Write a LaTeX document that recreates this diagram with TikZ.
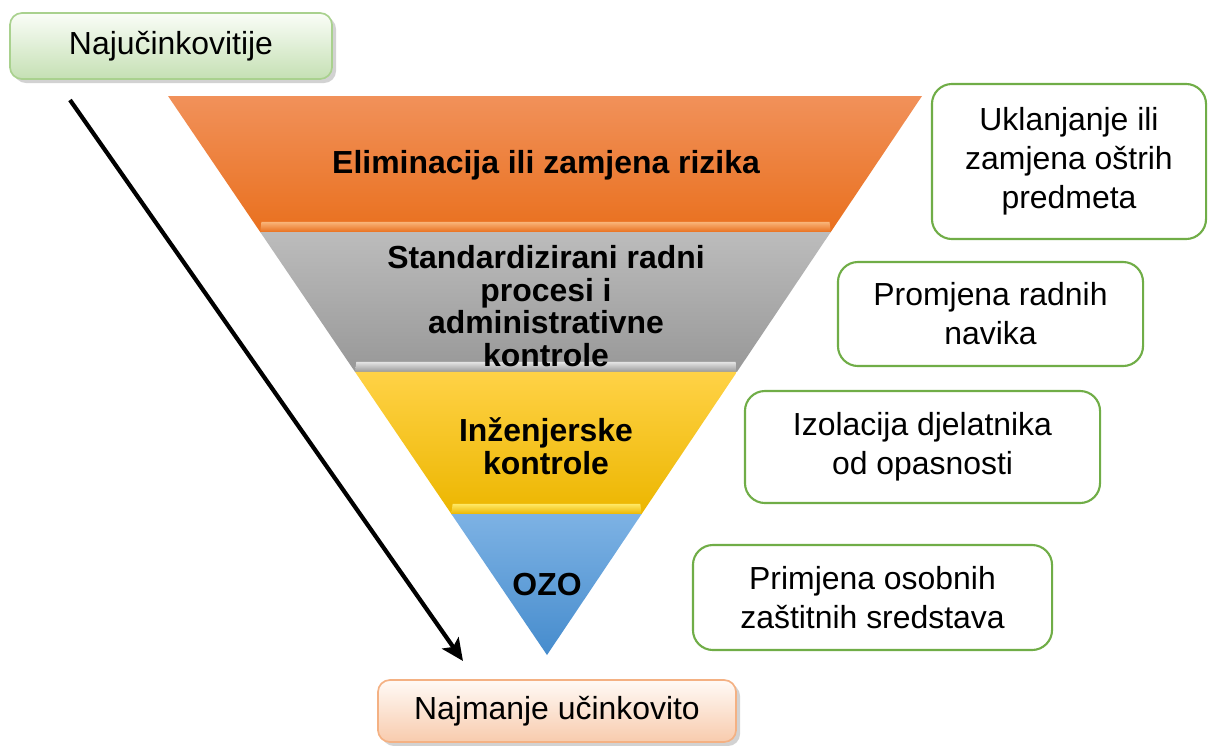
\documentclass[tikz,border=0pt]{standalone}
\usepackage{fontspec}
\setmainfont{Liberation Sans}
\usetikzlibrary{calc,shadows,arrows.meta}

\definecolor{okvir}{RGB}{112,173,71}
\definecolor{zelT}{RGB}{250,253,247}
\definecolor{zelB}{RGB}{197,224,180}
\definecolor{zelR}{RGB}{169,209,142}
\definecolor{bresT}{RGB}{255,250,246}
\definecolor{bresB}{RGB}{248,203,173}
\definecolor{bresR}{RGB}{244,177,131}
\definecolor{narT}{RGB}{241,145,90}
\definecolor{narB}{RGB}{233,112,30}
\definecolor{narS}{RGB}{249,180,120}
\definecolor{sivT}{RGB}{188,188,188}
\definecolor{sivB}{RGB}{152,152,152}
\definecolor{sivS}{RGB}{228,228,228}
\definecolor{zutT}{RGB}{255,210,70}
\definecolor{zutB}{RGB}{236,182,0}
\definecolor{zutS}{RGB}{255,232,100}
\definecolor{plaT}{RGB}{125,178,228}
\definecolor{plaB}{RGB}{70,140,205}

\tikzset{
  opis/.style={draw=okvir, line width=1.5pt, fill=white, rounded corners=0.5cm,
    align=center, inner sep=0pt, font=\fontsize{22.7}{27.7}\selectfont},
  razina/.style={align=center, font=\fontsize{22.7}{23.2}\selectfont\bfseries},
  krajnji/.style={rounded corners=0.3cm, line width=1.2pt, inner sep=0pt,
    font=\fontsize{22.7}{27.7}\selectfont,
    drop shadow={shadow xshift=0.1cm, shadow yshift=-0.1cm, fill=black!35}},
}

\begin{document}
\begin{tikzpicture}[x=0.025cm, y=-0.025cm]
    \useasboundingbox (0,0) rectangle (1208,745);
    \coordinate (TL) at (168,96);
    \coordinate (TR) at (922,96);
    \coordinate (AP) at (547,655);
    % razine piramide
    \shade [top color=narT, bottom color=narB] (TL) -- (TR) -- ($(TR)!0.2433!(AP)$) -- ($(TL)!0.2433!(AP)$) -- cycle;
    \shade [top color=narS, bottom color=narB] ($(TL)!0.2253!(AP)+(8,0)$) -- ($(TR)!0.2253!(AP)-(8,0)$) -- ($(TR)!0.2433!(AP)$) -- ($(TL)!0.2433!(AP)$) -- cycle;
    \shade [top color=sivT, bottom color=sivB] ($(TL)!0.2433!(AP)$) -- ($(TR)!0.2433!(AP)$) -- ($(TR)!0.4937!(AP)$) -- ($(TL)!0.4937!(AP)$) -- cycle;
    \shade [top color=sivS, bottom color=sivB] ($(TL)!0.4757!(AP)+(8,0)$) -- ($(TR)!0.4757!(AP)-(8,0)$) -- ($(TR)!0.4937!(AP)$) -- ($(TL)!0.4937!(AP)$) -- cycle;
    \shade [top color=zutT, bottom color=zutB] ($(TL)!0.4937!(AP)$) -- ($(TR)!0.4937!(AP)$) -- ($(TR)!0.7478!(AP)$) -- ($(TL)!0.7478!(AP)$) -- cycle;
    \shade [top color=zutS, bottom color=zutB] ($(TL)!0.7298!(AP)+(8,0)$) -- ($(TR)!0.7298!(AP)-(8,0)$) -- ($(TR)!0.7478!(AP)$) -- ($(TL)!0.7478!(AP)$) -- cycle;
    \shade [top color=plaT, bottom color=plaB] ($(TL)!0.7478!(AP)$) -- ($(TR)!0.7478!(AP)$) -- (AP) -- cycle;

    \node [razina] (elim) at (546,165) {Eliminacija ili zamjena rizika};
    \node [razina] (standard) at (546,306) {Standardizirani radni\\procesi i\\administrativne\\kontrole};
    \node [razina] (inzenj) at (546,446) {Inženjerske\\kontrole};
    \node [razina] (ozo) at (547,584) {OZO};

    % primjeri
    \node [opis, minimum width=6.85cm, minimum height=3.875cm] (uklanj) at (1069,161.5) {Uklanjanje ili\\zamjena oštrih\\predmeta};
    \node [opis, minimum width=7.625cm, minimum height=2.6cm] (promjena) at (990.5,314) {Promjena radnih\\navika};
    \node [opis, minimum width=8.875cm, minimum height=2.8cm] (izolacija) at (922.5,447) {Izolacija djelatnika\\od opasnosti};
    \node [opis, minimum width=8.975cm, minimum height=2.625cm] (primjena) at (872.5,597.5) {Primjena osobnih\\zaštitnih sredstava};

    % krajevi ljestvice
    \node [krajnji, draw=zelR, top color=zelT, bottom color=zelB, minimum width=8.05cm, minimum height=1.65cm] (najvise) at (171,46) {Najučinkovitije};
    \node [krajnji, draw=bresR, top color=bresT, bottom color=bresB, minimum width=8.95cm, minimum height=1.55cm] (najmanje) at (557,711) {Najmanje učinkovito};

    \coordinate (strA) at (70,100);
    \coordinate (strB) at (463,661);
    \draw [line width=3pt, -{Stealth[length=0.55cm, width=0.5cm, inset=0.12cm]}] (strA) -- (strB);
\end{tikzpicture}
\end{document}
